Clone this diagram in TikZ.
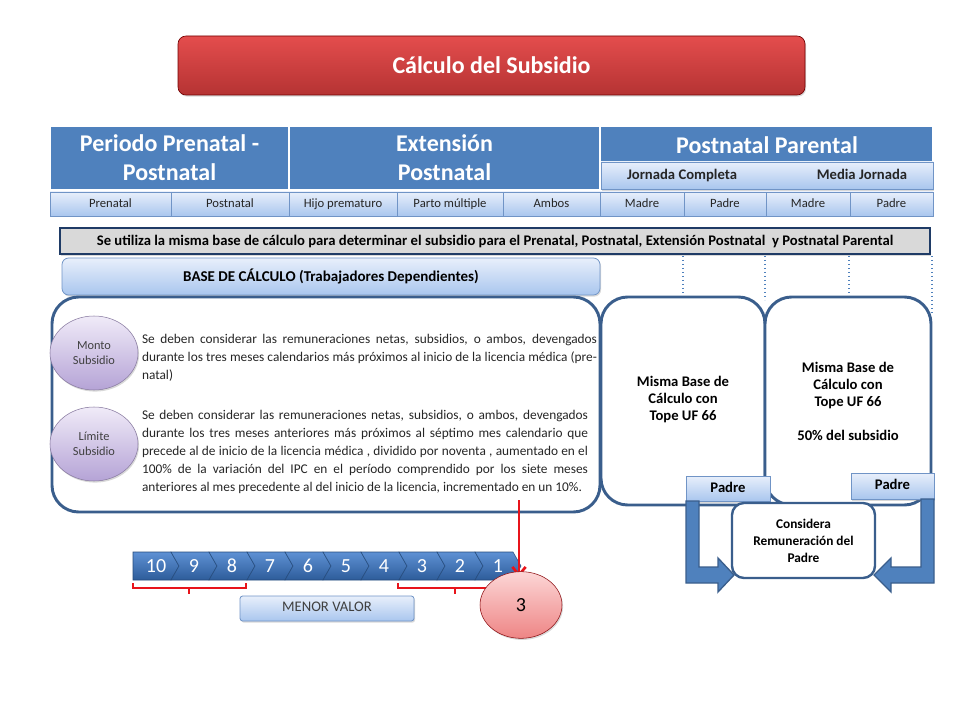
\documentclass[tikz,border=0pt]{standalone}
\usepackage{fontspec}
\setmainfont{Carlito}
\usetikzlibrary{arrows.meta,shadows,shapes.geometric,calc}

\definecolor{hdrblue}{HTML}{4F81BD}
\definecolor{navy}{HTML}{3A5E8C}
\definecolor{lbtop}{HTML}{E8EFFB}
\definecolor{lbbot}{HTML}{A9C6EE}
\definecolor{lbedge}{HTML}{7094C6}
\definecolor{redtop}{HTML}{E44D4D}
\definecolor{redbot}{HTML}{B53333}
\definecolor{grayfill}{HTML}{D9D9D9}
\definecolor{grayedge}{HTML}{1F3B66}
\definecolor{purtop}{HTML}{F0EBF8}
\definecolor{purbot}{HTML}{B5A3D6}
\definecolor{chevtop}{HTML}{5E91D4}
\definecolor{chevbot}{HTML}{2D5C9A}
\definecolor{pinktop}{HTML}{FCD6D6}
\definecolor{pinkbot}{HTML}{EE8585}
\definecolor{txtgray}{HTML}{404040}
\definecolor{brightred}{HTML}{E8141B}

\newcommand\bx[7]{\node[#2, minimum width={(#5-#3)*0.75pt}, minimum height={(#6-#4)*0.75pt}] (#1) at ({(#3+#5)/2},{(#4+#6)/2}) {#7};}
\newcommand\jl[2]{\makebox[#1][s]{#2}}

\tikzset{
  every node/.style={inner sep=0pt, outer sep=0pt},
  sh/.style={drop shadow={opacity=0.3, shadow xshift=0.8pt, shadow yshift=-1.2pt}},
  fixh/.style={text height=7pt, text depth=2pt},
  titlebox/.style={top color=redtop, bottom color=redbot, draw=red!45!black, line width=0.5pt,
    rounded corners=6pt, text=white, font=\fontsize{18}{20}\selectfont\bfseries, sh},
  hdr/.style={fill=hdrblue, draw=white, line width=0.8pt, text=white,
    font=\fontsize{18}{21.75}\selectfont\bfseries, align=center},
  hdrtxt/.style={text=white, font=\fontsize{18}{21.75}\selectfont\bfseries},
  subbar/.style={top color=lbtop, bottom color=lbbot, draw=lbedge, line width=0.6pt, sh},
  subtxt/.style={text=black!85, font=\fontsize{11}{13}\selectfont\bfseries, text height=8pt, text depth=2.5pt},
  tabcell/.style={top color=lbtop, bottom color=lbbot, draw=lbedge, line width=0.6pt,
    text=black!85, font=\fontsize{9.5}{11}\selectfont, fixh},
  notebar/.style={fill=grayfill, draw=grayedge, line width=2.2pt, text=black,
    font=\fontsize{11}{12}\selectfont\bfseries, sh},
  basebox/.style={top color=lbtop, bottom color=lbbot, draw=lbedge, line width=0.6pt,
    rounded corners=5pt, text=black, font=\fontsize{11.25}{12}\selectfont\bfseries, sh},
  bigbox/.style={fill=white, draw=navy, line width=2.2pt, rounded corners=20pt},
  boxtxt/.style={text=black, font=\fontsize{11}{12.75}\selectfont\bfseries, align=center},
  ell/.style={ellipse, minimum width=66pt, minimum height=55.5pt, top color=purtop,
    bottom color=purbot, draw=purbot!75!black, line width=0.4pt, text=txtgray,
    font=\fontsize{9.25}{11.5}\selectfont, align=center, sh},
  para/.style={text=black!85, font=\fontsize{10}{13.5}\selectfont, align=left},
  padretab/.style={top color=lbtop, bottom color=lbbot, draw=lbedge, line width=0.6pt,
    text=black, font=\fontsize{11}{13}\selectfont\bfseries, text height=8pt, text depth=2.5pt, sh},
  consbox/.style={fill=white, draw=navy, line width=1.8pt, rounded corners=9pt, text=black,
    font=\fontsize{10}{12.75}\selectfont\bfseries, align=center},
  blockarrow/.style={fill=hdrblue, draw=navy, line width=1pt, line join=miter},
  dotline/.style={draw=hdrblue, line width=1pt, dotted},
  chev/.style={top color=chevtop, bottom color=chevbot, draw=chevbot!80!black, line width=0.4pt},
  chevtxt/.style={text=white, font=\fontsize{15}{17}\selectfont},
  redline/.style={draw=brightred, line width=1.5pt},
  circ/.style={ellipse, minimum width=61.5pt, minimum height=50pt, top color=pinktop,
    bottom color=pinkbot, draw=brightred!60!black, line width=0.4pt, text=black,
    font=\fontsize{15}{17}\selectfont, sh},
  menor/.style={top color=lbtop, bottom color=lbbot, draw=lbedge, line width=0.6pt,
    rounded corners=2pt, text=txtgray, font=\fontsize{11}{12}\selectfont, fixh, sh}
}

\begin{document}
\begin{tikzpicture}[x=0.75pt,y=-0.75pt]
\useasboundingbox (0,0) rectangle (960,720);

% title
\bx{title}{titlebox}{178}{36}{805}{95}{Cálculo del Subsidio}

% header row
\bx{h1}{hdr}{50}{126}{289}{190}{Periodo Prenatal -\\Postnatal}
\bx{h2}{hdr}{289}{126}{600}{190}{Extensión\\Postnatal}
\bx{h3}{hdr}{600}{126}{933}{190}{}
\node[hdrtxt] (h3t) at (767,145) {Postnatal Parental};
\bx{jor}{subbar}{601}{162}{933}{189}{}
\node[subtxt] (jc) at (682,176) {Jornada Completa};
\node[subtxt] (mj) at (862,176) {Media Jornada};

% tab row
\bx{t1}{tabcell}{50}{192}{171}{216}{Prenatal}
\bx{t2}{tabcell}{171}{192}{289}{216}{Postnatal}
\bx{t3}{tabcell}{289}{192}{397}{216}{Hijo prematuro}
\bx{t4}{tabcell}{397}{192}{503}{216}{Parto múltiple}
\bx{t5}{tabcell}{503}{192}{600}{216}{Ambos}
\bx{t6}{tabcell}{600}{192}{684}{216}{Madre}
\bx{t7}{tabcell}{684}{192}{766}{216}{Padre}
\bx{t8}{tabcell}{766}{192}{850}{216}{Madre}
\bx{t9}{tabcell}{850}{192}{933}{216}{Padre}

% note bar
\bx{note}{notebar}{60}{228}{930}{254}{Se utiliza la misma base de cálculo para determinar el subsidio para el Prenatal, Postnatal, Extensión Postnatal\ \ y Postnatal Parental}

% dotted guides
\coordinate (d1) at (683,256); \coordinate (d1e) at (683,298);
\coordinate (d2) at (765,256); \coordinate (d2e) at (765,300);
\coordinate (d3) at (849,256); \coordinate (d3e) at (849,298);
\coordinate (d4) at (932,256); \coordinate (d4e) at (932,315);
\draw[dotline] (d1) -- (d1e);
\draw[dotline] (d2) -- (d2e);
\draw[dotline] (d3) -- (d3e);
\draw[dotline] (d4) -- (d4e);

% base box
\bx{base}{basebox}{62}{258}{600}{295}{BASE DE CÁLCULO (Trabajadores Dependientes)}

% big boxes
\bx{main}{bigbox}{52}{297}{600}{512}{}
\bx{rb1}{bigbox}{601}{297}{765}{505}{}
\bx{rb2}{bigbox}{765}{297}{931}{505}{}

\node[boxtxt] (rb1t) at (683,400) {Misma Base de\\Cálculo con\\Tope UF 66};
\node[boxtxt] (rb2t) at (848,401) {Misma Base de\\Cálculo con\\Tope UF 66\\[12.75pt]50\% del subsidio};

% ellipses
\node[ell] (monto) at (94,353) {Monto\\Subsidio};
\node[ell] (limite) at (94,444) {Límite\\Subsidio};

% paragraphs
\node[para, anchor=north west] (mtxt) at (142,334) {%
\jl{341.25pt}{Se deben considerar las remuneraciones netas, subsidios, o ambos, devengados}\\
\jl{341.25pt}{durante los tres meses calendarios más próximos al inicio de la licencia médica (pre-}\\
natal)};
\node[para, anchor=north west] (ltxt) at (142,410) {%
\jl{334.5pt}{Se deben considerar las remuneraciones netas, subsidios, o ambos, devengados}\\
\jl{334.5pt}{durante los tres meses anteriores más próximos al séptimo mes calendario que}\\
\jl{334.5pt}{precede al de inicio de la licencia médica , dividido por noventa , aumentado en el}\\
\jl{334.5pt}{100\% de la variación del IPC en el período comprendido por los siete meses}\\
anteriores al mes precedente al del inicio de la licencia, incrementado en un 10\%.};

% Padre tabs and considera box
\bx{pL}{padretab}{686}{476}{770}{501}{Padre}
\bx{pR}{padretab}{851}{473}{934}{499}{Padre}
\bx{cons}{consbox}{732}{503}{875}{578}{Considera\\Remuneración del\\Padre}

% block arrows
\draw[blockarrow] (686,501) -- (699,501) -- (699,567) -- (718,567) -- (718,558) -- (734,575)
  -- (718,592) -- (718,583) -- (686,583) -- cycle;
\draw[blockarrow] (934,499) -- (921,499) -- (921,567) -- (891,567) -- (891,558) -- (874,575)
  -- (891,592) -- (891,583) -- (934,583) -- cycle;

% chevrons
\foreach \i [evaluate=\i as \L using 133+38*\i, evaluate=\i as \n using int(10-\i),
             evaluate=\i as \dd using {\i>0 ? 8 : 0}] in {0,...,9} {
  \draw[chev] (\L,552) -- (\L+38,552) -- (\L+46,566) -- (\L+38,580) -- (\L,580) -- (\L+\dd,566) -- cycle;
  \node[chevtxt] (chev\n) at (\L+23,566) {\n};
}

% red arrow
\coordinate (rs) at (519,500);
\coordinate (rt) at (519,577);
\draw[redline, line width=2.2pt, -{Straight Barb[length=6pt,width=10pt,line width=2pt]}] (rs) -- (rt);

% brackets
\draw[redline] (133,583) -- (133,588) -- (246,588) -- (246,583);
\draw[redline] (189,588) -- (189,594);
\draw[redline] (398,583) -- (398,588) -- (512,588);
\draw[redline] (455,588) -- (455,594);

% circle 3 and menor valor
\node[circ] (three) at (521,605) {3};
\bx{menorv}{menor}{240}{596}{414}{621}{MENOR VALOR}

\end{tikzpicture}
\end{document}
